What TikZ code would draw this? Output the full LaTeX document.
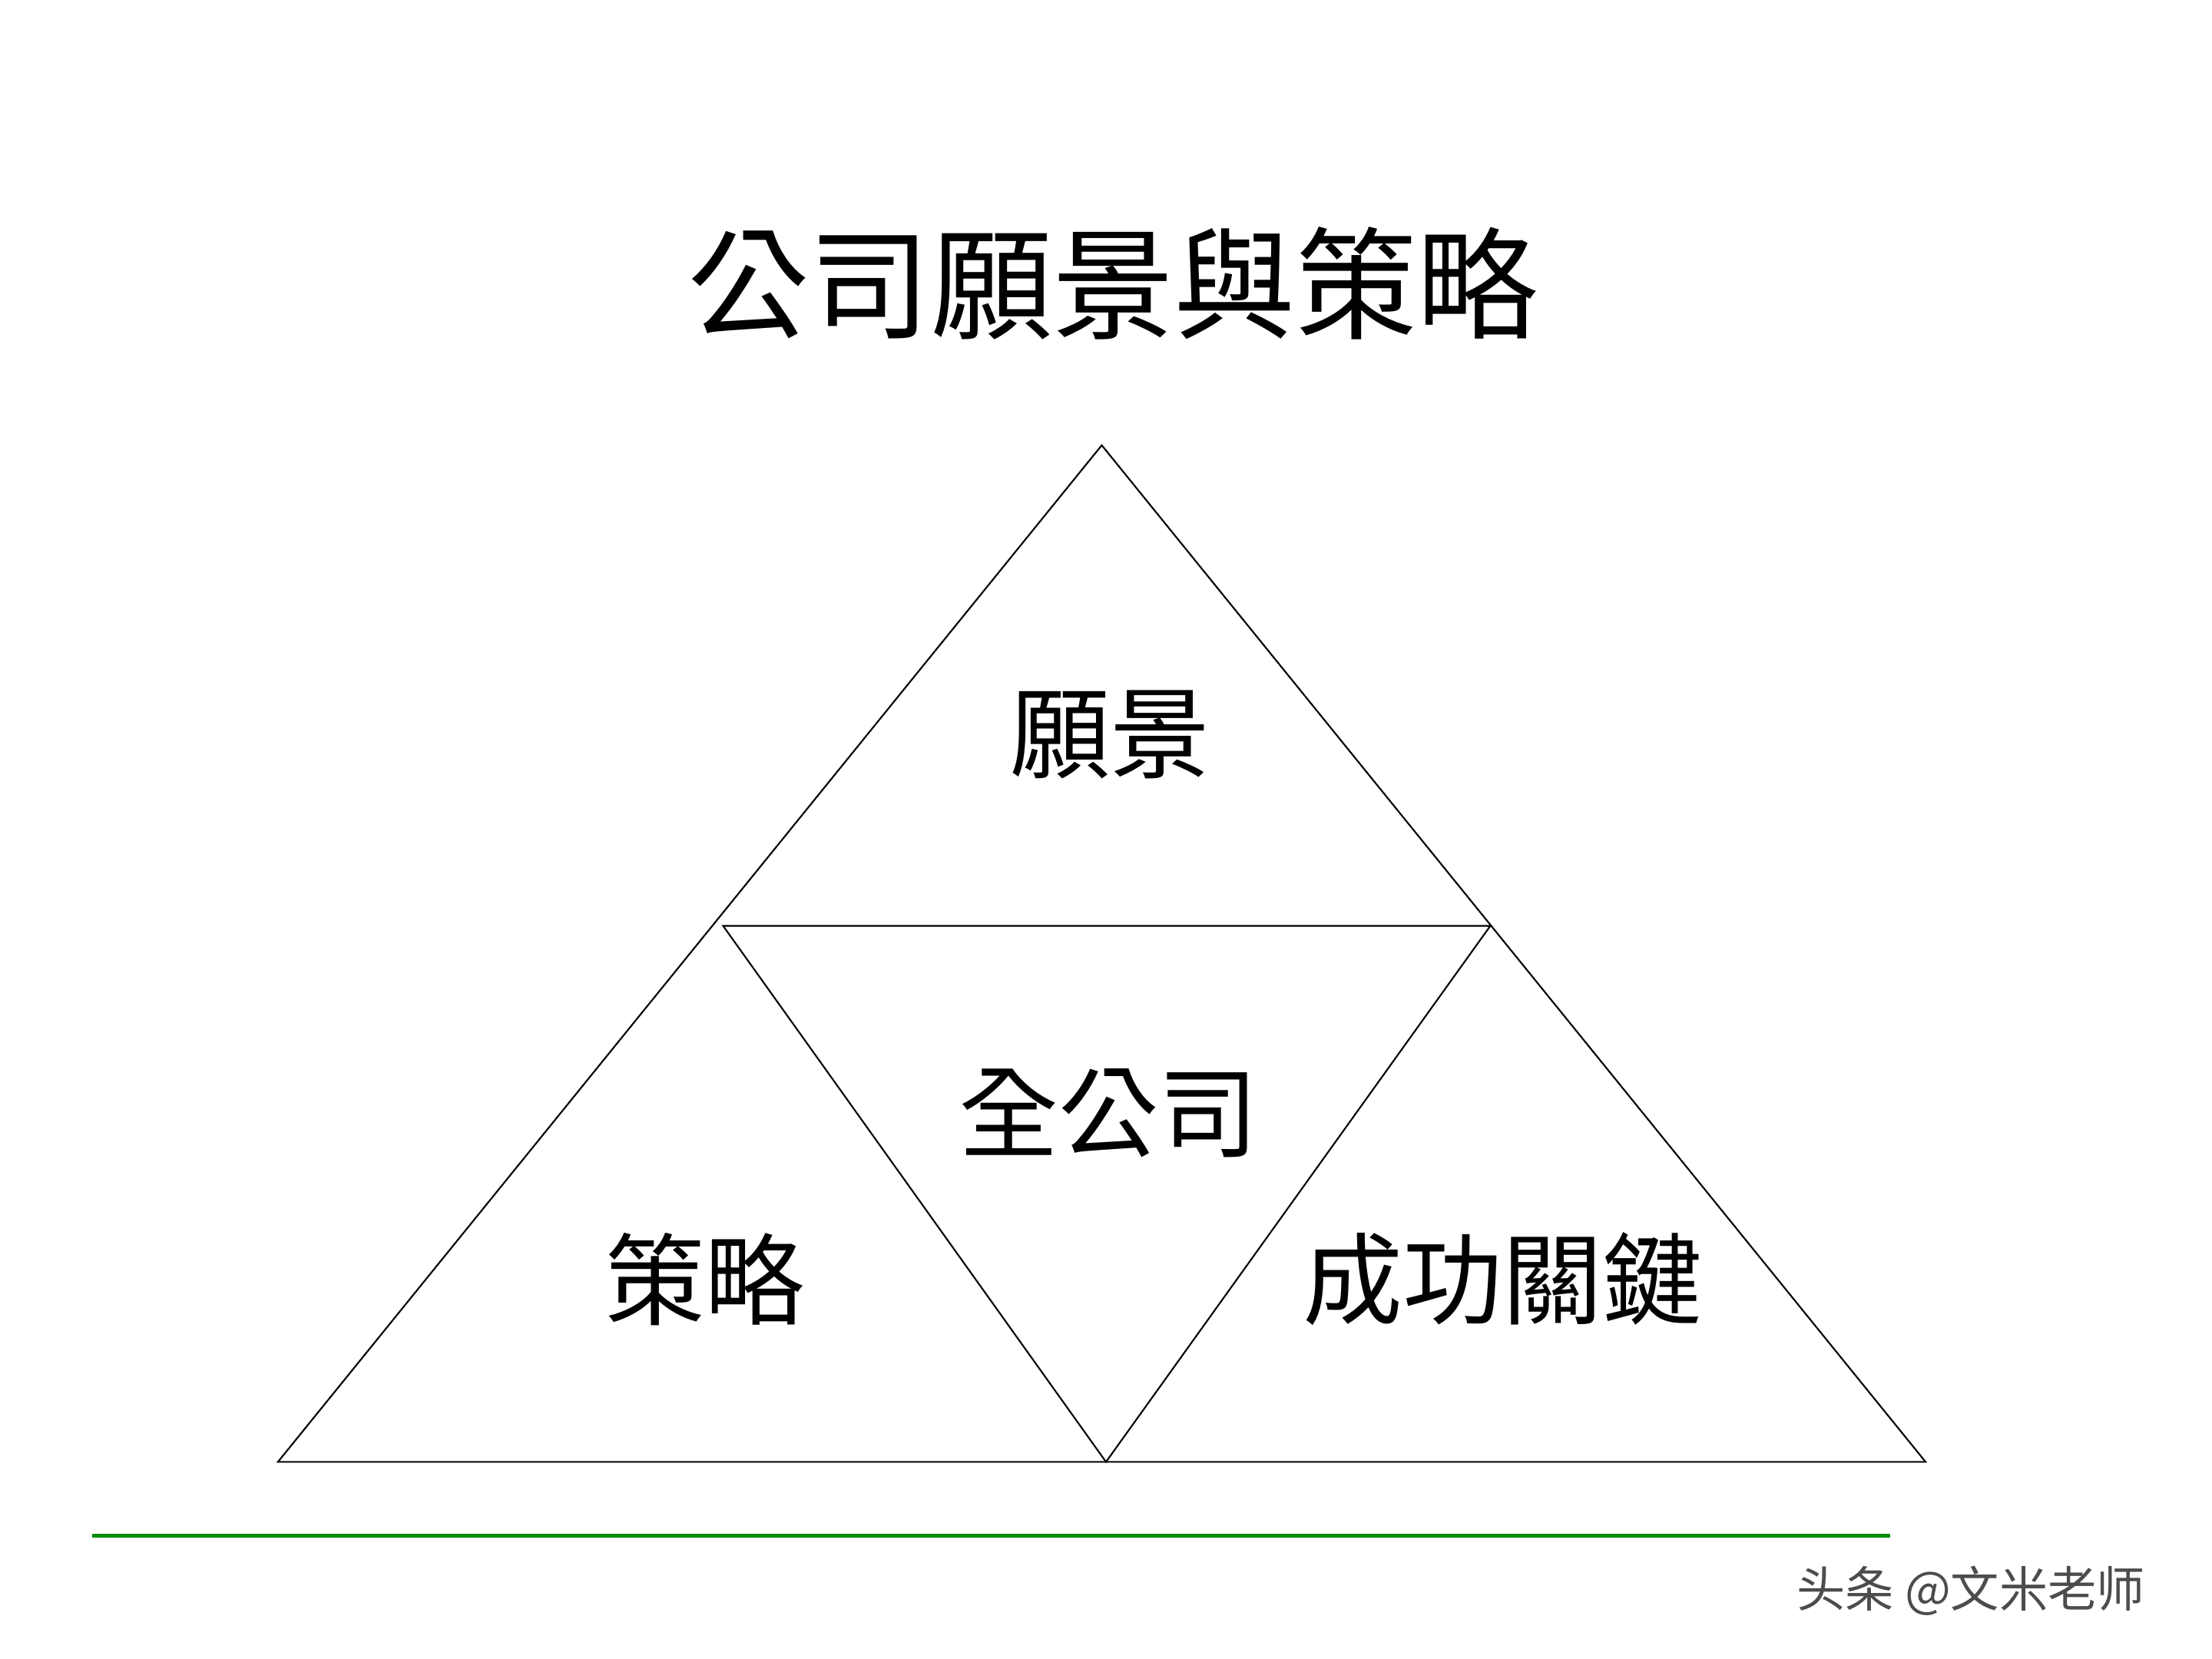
\documentclass[tikz,border=0pt]{standalone}
\usepackage{fontspec}
\setmainfont{Noto Sans CJK TC}
\begin{document}
\begin{tikzpicture}[x=0.018462cm,y=-0.018462cm,
  lbl/.style={inner sep=0pt,font=\fontsize{37}{40}\selectfont},
  edge/.style={draw=black,line width=0.6pt}]
\useasboundingbox (0,0) rectangle (1560,1170);
\fill[white] (0,0) rectangle (1560,1170);
\coordinate (A) at (777,314);
\coordinate (L) at (196,1031);
\coordinate (R) at (1358,1031);
\coordinate (ML) at (510,653);
\coordinate (MR) at (1051,653);
\coordinate (MB) at (780,1031);
\draw[edge] (A) -- (L) -- (R) -- cycle;
\draw[edge] (ML) -- (MR) -- (MB) -- cycle;
\node[inner sep=0pt,font=\fontsize{45}{48}\selectfont] (title) at (785,200) {公司願景與策略};
\node[lbl] (v) at (783,518) {願景};
\node[lbl] (c) at (782,785) {全公司};
\node[lbl] (s) at (497,902) {策略};
\node[lbl] (k) at (1060,902) {成功關鍵};
\coordinate (G1) at (65,1083);
\coordinate (G2) at (1333,1083);
\draw[green!55!black,line width=1.6pt] (G1) -- (G2);
\node[inner sep=0pt,text=black!70,font=\fontsize{18}{20}\selectfont] (w) at (1390,1122) {头条 @文米老师};
\end{tikzpicture}
\end{document}
